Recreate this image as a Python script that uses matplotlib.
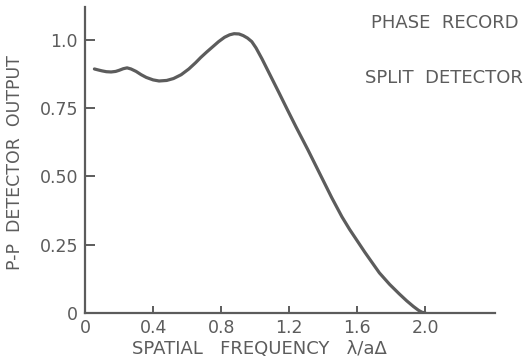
import matplotlib
matplotlib.use("Agg")
import matplotlib.pyplot as plt

# Peak-to-peak detector output versus spatial frequency (phase record, split detector)
freq = [0.055, 0.08, 0.10, 0.125, 0.153, 0.18, 0.20, 0.225, 0.247, 0.27,
        0.30, 0.33, 0.36, 0.40, 0.435, 0.48, 0.52, 0.565, 0.61, 0.65,
        0.68, 0.715, 0.75, 0.785, 0.82, 0.85, 0.876, 0.905, 0.93, 0.955,
        0.98, 1.005, 1.04, 1.09, 1.14, 1.19, 1.24, 1.31, 1.39, 1.45,
        1.51, 1.555, 1.60, 1.645, 1.688, 1.73, 1.79, 1.847, 1.89, 1.93,
        1.96, 1.98, 2.0]
output = [0.893, 0.889, 0.886, 0.883, 0.882, 0.884, 0.888, 0.894, 0.897, 0.893,
          0.884, 0.872, 0.862, 0.853, 0.849, 0.851, 0.858, 0.872, 0.893, 0.916,
          0.935, 0.955, 0.974, 0.993, 1.009, 1.018, 1.022, 1.021, 1.015, 1.006,
          0.993, 0.970, 0.930, 0.868, 0.806, 0.743, 0.681, 0.597, 0.497, 0.422,
          0.352, 0.306, 0.264, 0.222, 0.184, 0.147, 0.105, 0.070, 0.045, 0.024,
          0.010, 0.003, 0.0]

x_ticks = [0, 0.4, 0.8, 1.2, 1.6, 2.0]
x_tick_labels = ["0", "0.4", "0.8", "1.2", "1.6", "2.0"]
y_ticks = [0, 0.25, 0.50, 0.75, 1.0]
y_tick_labels = ["0", "0.25", "0.50", "0.75", "1.0"]

ink = "#5c5c5c"

fig = plt.figure(figsize=(5.25, 3.64), dpi=100)
ax = fig.add_axes([0.162, 0.140, 0.781, 0.841])

ax.plot(freq, output, color=ink, lw=2.3, solid_capstyle="round", solid_joinstyle="round")

ax.set_xlim(0, 2.41)
ax.set_ylim(0, 1.12)

for side in ("top", "right"):
    ax.spines[side].set_visible(False)
for side in ("left", "bottom"):
    ax.spines[side].set_color(ink)
    ax.spines[side].set_linewidth(1.6)

ax.set_xticks(x_ticks)
ax.set_xticklabels(x_tick_labels)
ax.set_yticks(y_ticks)
ax.set_yticklabels(y_tick_labels)
ax.tick_params(axis="x", direction="in", length=5, width=1.4, color=ink,
               labelcolor=ink, labelsize=12.5, pad=4)
ax.tick_params(axis="y", direction="in", length=7, width=1.4, color=ink,
               labelcolor=ink, labelsize=12.5, pad=5)

ax.set_xlabel("SPATIAL   FREQUENCY   \u03bb/a\u0394", color=ink, fontsize=13)
ax.xaxis.set_label_coords(0.426, -0.087)
ax.set_ylabel("P-P  DETECTOR  OUTPUT", color=ink, fontsize=12.5)
ax.yaxis.set_label_coords(-0.150, 0.49)

fig.text(0.987, 0.937, "PHASE  RECORD", color=ink, fontsize=13, ha="right", va="center")
fig.text(0.996, 0.786, "SPLIT  DETECTOR", color=ink, fontsize=13, ha="right", va="center")

fig.savefig("out.png", dpi=100)
